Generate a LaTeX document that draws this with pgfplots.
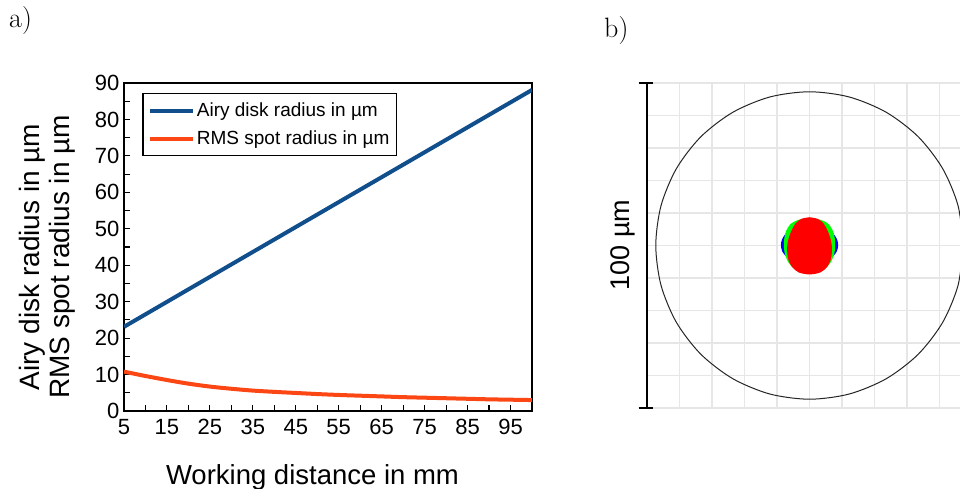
\documentclass[border=0pt]{standalone}
\usepackage{pgfplots}
\pgfplotsset{compat=1.18}
\usepackage{fontspec}
\newfontfamily\arial{Liberation Sans}
\definecolor{airyblue}{RGB}{16,78,140}
\definecolor{rmsred}{RGB}{252,70,20}
\definecolor{gridgray}{RGB}{230,230,230}
\begin{document}
\begin{tikzpicture}
\useasboundingbox (0pt,0pt) rectangle (960pt,489pt);
\node[anchor=base west, inner sep=0pt, font=\fontsize{28}{32}\selectfont] at (9pt,461pt) {a)};
\node[anchor=base west, inner sep=0pt, font=\fontsize{28}{32}\selectfont] at (604pt,451pt) {b)};

\begin{axis}[
  at={(124pt,78pt)}, anchor=south west, scale only axis,
  width=408pt, height=328pt,
  xmin=5, xmax=100, ymin=0, ymax=90,
  xtick={5,15,...,95}, ytick={0,10,...,90},
  minor x tick num=1, minor y tick num=1,
  tick align=inside, xtick pos=left, ytick pos=left,
  major tick length=6pt, minor tick length=6pt,
  tick style={black, line width=1.1pt},
  axis line style={line width=1.4pt},
  /pgf/number format/assume math mode=true,
  ticklabel style={font=\arial\fontsize{22}{26}\selectfont},
  xticklabel style={yshift=-5pt},
  yticklabel style={xshift=-1pt},
  xlabel={Working distance in mm},
  xlabel style={at={(axis description cs:0.462,-0.2256)}, anchor=base, font=\arial\fontsize{27.5}{30}\selectfont},
  ylabel={Airy disk radius in µm\\RMS spot radius in µm},
  ylabel style={at={(axis description cs:-0.1875,0.4695)}, anchor=center, align=center, font=\arial\fontsize{28}{29.5}\selectfont},
  legend style={at={(axis description cs:0.0449,0.9686)}, anchor=north west, draw=black, line width=1.2pt,
    font=\arial\fontsize{19}{22}\selectfont, inner xsep=5pt, inner ysep=7pt, row sep=9pt,
    nodes={inner sep=2pt}},
  legend cell align=left,
  legend image code/.code={\draw[#1] (0pt,0pt) -- (43pt,0pt);},
]
\addplot[airyblue, line width=4pt] coordinates {(5,23.1) (25,36.8) (50,53.9) (75,71.0) (100,88.1)};
\addlegendentry{Airy disk radius in µm}
\addplot[rmsred, line width=4pt, smooth] coordinates {
(5,10.8) (10,9.6) (15,8.5) (20,7.5) (25,6.7) (30,6.1) (35,5.6) (40,5.25) (45,4.95)
(50,4.65) (55,4.4) (60,4.2) (65,4.0) (70,3.8) (75,3.65) (80,3.5) (85,3.35) (90,3.2) (95,3.1) (100,3.0)};
\addlegendentry{RMS spot radius in µm}
\end{axis}

\begin{axis}[
  at={(647pt,81pt)}, anchor=south west, scale only axis,
  width=316.6pt, height=325pt,
  xmin=-50, xmax=47.4, ymin=-50, ymax=50,
  xtick={-50,-40,...,40}, ytick={-50,-40,...,50},
  xticklabels={}, yticklabels={},
  major tick length=0pt,
  grid=major, grid style={gridgray, line width=1.8pt},
  axis line style={draw=none},
  clip=false,
  ylabel={100 µm},
  ylabel style={at={(axis description cs:-0.0758,0.5015)}, anchor=center, font=\arial\fontsize{27}{30}\selectfont},
]
\addplot[black!85, line width=1pt, smooth] coordinates {
(47.3,0) (45.69,12.24) (40.96,23.65) (33.45,33.45) (23.65,40.96) (12.24,45.69)
(0,47.3) (-12.24,45.69) (-23.65,40.96) (-33.45,33.45) (-40.96,23.65) (-45.69,12.24)
(-47.3,0) (-45.69,-12.24) (-40.96,-23.65) (-33.45,-33.45) (-23.65,-40.96) (-12.24,-45.69)
(0,-47.3) (12.24,-45.69) (23.65,-40.96) (33.45,-33.45) (40.96,-23.65) (45.69,-12.24) (47.3,0)};
% blue spot
\addplot[fill=blue, draw=none, smooth] coordinates {
(0,6) (4,5.6) (7,4) (8.4,2) (8.8,0.2) (8.4,-1.8) (7,-3.5) (4,-5) (0,-5.5)
(-4,-5) (-7,-3.5) (-8.4,-1.8) (-8.8,0.2) (-8.4,2) (-7,4) (-4,5.6) (0,6)};
% green spot
\addplot[fill=green, draw=none, smooth] coordinates {
(0,8.3) (3,8) (5.6,6.8) (7.2,4.5) (7.9,1) (7.6,-2.5) (6.3,-5.5) (4,-7.5) (0,-8)
(-4,-7.5) (-6.3,-5.5) (-7.6,-2.5) (-7.9,1) (-7.2,4.5) (-5.6,6.8) (-3,8) (0,8.3)};
% red spot
\addplot[fill=red, draw=none, smooth] coordinates {
(0,8.7) (2.5,8.2) (4.3,6.8) (5.6,4.5) (6.6,1.5) (6.9,-1) (6.6,-4) (5.4,-6.6) (3.3,-8.3) (0,-8.9)
(-3.3,-8.3) (-5.4,-6.6) (-6.6,-4) (-6.9,-1) (-6.6,1.5) (-5.6,4.5) (-4.3,6.8) (-2.5,8.2) (0,8.7)};
% scale bar
\addplot[black, line width=1.3pt] coordinates {(-50,-50) (-50,50)};
\addplot[black, line width=1.3pt] coordinates {(-52.6,50) (-48.2,50)};
\addplot[black, line width=1.3pt] coordinates {(-52.6,-50) (-48.2,-50)};
\end{axis}
\end{tikzpicture}
\end{document}
